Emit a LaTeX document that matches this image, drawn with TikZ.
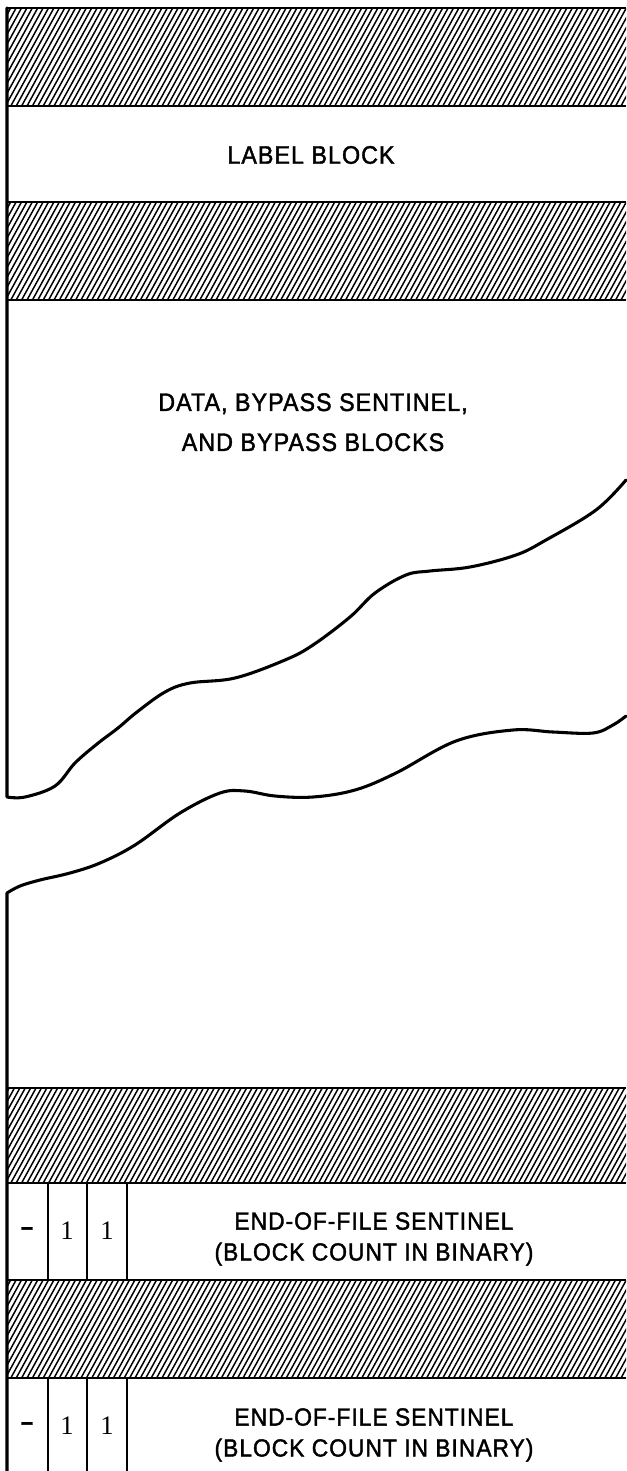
\documentclass[tikz,border=0pt]{standalone}
\usepackage{fontspec}
\setmainfont{Liberation Sans}
\newfontfamily\letterfont[FakeStretch=0.92,FakeBold=1.6,LetterSpace=4]{Liberation Sans}
\newfontfamily\digitfont{Liberation Serif}
\begin{document}
\begin{tikzpicture}[x=0.75pt,y=-0.75pt,
  outline/.style={line width=2.1pt,line join=miter},
  bandedge/.style={line width=1.5pt},
  hatchline/.style={line width=1.1pt},
  cellline/.style={line width=1.1pt},
  wave/.style={line width=2.3pt,line join=round,line cap=round},
  lbl/.style={inner sep=0pt,font={\letterfont\fontsize{19}{30}\selectfont},align=center},
  eof/.style={inner sep=0pt,font={\letterfont\fontsize{18.6}{23.2}\selectfont},align=center,anchor=north},
  digit/.style={inner sep=0pt,font={\digitfont\fontsize{20}{20}\selectfont}},
  minus/.style={inner sep=0pt,font={\letterfont\bfseries\fontsize{18}{18}\selectfont}}]
\useasboundingbox (0,0) rectangle (626,1471);
\fill[white] (0,0) rectangle (626,1471);

\newcommand{\hatchband}[2]{%
  \begin{scope}
    \clip (7,#1) rectangle (626,#2);
    \foreach \i in {-14,...,116} {
      \draw[hatchline] ({\i*5.4},#2) -- ++({0.55*(#2-#1)},{-(#2-#1)});
    }
  \end{scope}
  \draw[bandedge] (7,#1) -- (626,#1);
  \draw[bandedge] (7,#2) -- (626,#2);
}

% hatched bands
\hatchband{8}{106}
\hatchband{202}{300}
\hatchband{1088}{1183}
\hatchband{1280}{1378}

% top edge
\draw[outline] (5.5,8) -- (626,8);

% left edge and upper torn edge
\draw[wave] (7,8) -- (7,797) -- plot[smooth,tension=0.6] coordinates {
 (7,797) (25,797) (55,786) (75,763) (97,744) (118,728) (137,712) (165,692)
 (190,683) (235,678) (285,660) (313,645) (350,617) (375,593) (406,575)
 (430,571) (470,567) (516,555) (546,540) (596,510) (626,480)};

% lower torn edge and left edge
\draw[wave] (7,1471) -- (7,893) -- plot[smooth,tension=0.6] coordinates {
 (7,893) (20,886) (40,880) (70,873) (100,863) (135,845) (180,813) (220,793)
 (245,791) (275,796) (313,797) (355,790) (396,773) (456,741) (513,730)
 (553,732) (593,733) (613,725) (626,716)};

% cell dividers
\foreach \cx in {48,87,127} {
  \draw[cellline] (\cx,1183) -- (\cx,1280);
  \draw[cellline] (\cx,1378) -- (\cx,1471);
}

% texts
\node[lbl] (label) at (311,155) {LABEL BLOCK};
\node[lbl,anchor=north] (data) at (313,393) {DATA, BYPASS SENTINEL,\\AND BYPASS BLOCKS};

\node[minus] (m1) at (27,1231) {–};
\node[digit] (a1) at (67,1231) {1};
\node[digit] (b1) at (107,1231) {1};
\node[eof] (eof1) at (374,1212) {END-OF-FILE SENTINEL\\(BLOCK COUNT IN BINARY)};

\node[minus] (m2) at (27,1426) {–};
\node[digit] (a2) at (67,1426) {1};
\node[digit] (b2) at (107,1426) {1};
\node[eof] (eof2) at (374,1408) {END-OF-FILE SENTINEL\\(BLOCK COUNT IN BINARY)};
\end{tikzpicture}
\end{document}
